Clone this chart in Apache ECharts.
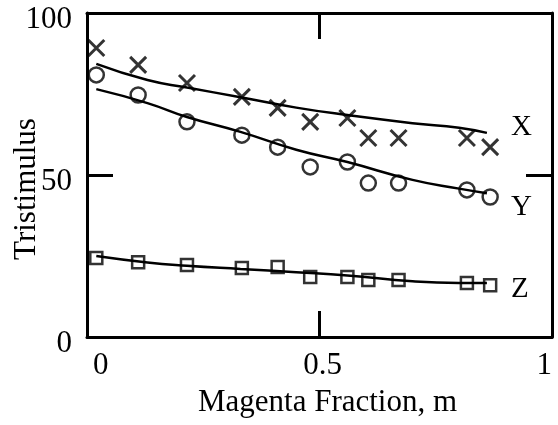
<!DOCTYPE html>
<html>
<head>
<meta charset="utf-8">
<script src="https://cdn.jsdelivr.net/npm/echarts@6/dist/echarts.min.js"></script>
<style>html,body{margin:0;padding:0;background:#fff}#c{width:558px;height:425px}</style>
</head>
<body>
<div id="c"></div>
<script>
// measured points
const mPoints = [0.02, 0.11, 0.215, 0.333, 0.41, 0.48, 0.56, 0.605, 0.67, 0.817, 0.867];
const xValues = [89.2, 84.0, 78.4, 74.1, 70.7, 66.4, 67.6, 61.4, 61.4, 61.4, 58.6];
const yValues = [80.9, 74.7, 66.4, 62.3, 58.6, 52.5, 54.0, 47.5, 47.5, 45.4, 43.2];
const zValues = [24.4, 23.1, 22.2, 21.3, 21.6, 18.5, 18.5, 17.6, 17.6, 16.7, 16.0];
// fitted curves
const fitM = [0.02, 0.13, 0.215, 0.33, 0.45, 0.56, 0.7, 0.8, 0.86];
const xFit = [84.3, 79.3, 77.0, 74.0, 70.8, 68.5, 66.0, 64.6, 63.0];
const yFit = [76.5, 72.2, 67.9, 63.3, 57.8, 54.0, 48.5, 45.8, 44.4];
const zFit = [25.0, 23.0, 22.0, 21.0, 20.0, 19.0, 17.2, 16.7, 16.7];
const seriesNames = ['X', 'Y', 'Z'];
const xTitle = 'Magenta Fraction, m';
const yTitle = 'Tristimulus';

const FONT = 'Liberation Serif';
const FS = 31;
const pair = (xs, ys) => xs.map((x, i) => [x, ys[i]]);

const chart = echarts.init(document.getElementById('c'));
const axisLine = {show: true, onZero: false, lineStyle: {color: '#000', width: 3}};
const tick = {show: true, inside: true, length: 26, lineStyle: {color: '#000', width: 3}};
const markStyle = {color: 'rgba(0,0,0,0)', borderColor: '#000', borderWidth: 2.5};
const fitSeries = (name, data, off) => ({
  type: 'line', name, data: pair(fitM, data), smooth: true, showSymbol: false, symbol: 'none',
  lineStyle: {color: '#000', width: 2.5}, z: 3, silent: true,
  endLabel: {show: true, formatter: name, fontFamily: FONT, fontSize: FS - 2, color: '#000', offset: off, distance: 14}
});
chart.setOption({
  animation: false,
  grid: {left: 87, right: 6, top: 13, bottom: 88, containLabel: false, outerBoundsMode: 'none'},
  xAxis: [{
    type: 'value', min: 0, max: 1, interval: 0.5, position: 'bottom',
    name: xTitle, nameLocation: 'middle', nameGap: 50, nameMoveOverlap: false,
    nameTextStyle: {fontFamily: FONT, fontSize: FS, color: '#000', padding: [0, 0, 0, 16]},
    axisLine, axisTick: tick, splitLine: {show: false},
    axisLabel: {fontFamily: FONT, fontSize: FS, color: '#000', margin: 13, alignMinLabel: 'left', alignMaxLabel: 'right', padding: [0, 0, 0, 6]}
  }, {
    type: 'value', min: 0, max: 1, interval: 0.5, position: 'top',
    axisLine, axisTick: tick, splitLine: {show: false}, axisLabel: {show: false}
  }],
  yAxis: [{
    type: 'value', min: 0, max: 100, interval: 50, position: 'left',
    name: yTitle, nameLocation: 'middle', nameGap: 45, nameMoveOverlap: false,
    nameTextStyle: {fontFamily: FONT, fontSize: FS, color: '#000', padding: [0, 28, 0, 0]},
    axisLine, axisTick: tick, splitLine: {show: false},
    axisLabel: {
      fontFamily: FONT, fontSize: FS, color: '#000', margin: 15,
      formatter: '{v|{value}}',
      rich: {v: {fontFamily: FONT, fontSize: FS, color: '#000', padding: [14, 0, 0, 0]}}
    }
  }, {
    type: 'value', min: 0, max: 100, interval: 50, position: 'right',
    axisLine, axisTick: tick, splitLine: {show: false}, axisLabel: {show: false}
  }],
  series: [
    fitSeries(seriesNames[0], xFit, [10, -5]),
    fitSeries(seriesNames[1], yFit, [10, 14]),
    fitSeries(seriesNames[2], zFit, [10, 6]),
    {type: 'scatter', data: pair(mPoints, xValues), symbol: 'path://M0,0L10,10M10,0L0,10', symbolSize: 16,
     itemStyle: {color: 'rgba(0,0,0,0)', borderColor: '#000', borderWidth: 3}, z: 4},
    {type: 'scatter', data: pair(mPoints, yValues), symbol: 'circle', symbolSize: 15, itemStyle: markStyle, z: 4},
    {type: 'scatter', data: pair(mPoints, zValues), symbol: 'rect', symbolSize: 12, itemStyle: markStyle, z: 4}
  ]
});
</script>
</body>
</html>
